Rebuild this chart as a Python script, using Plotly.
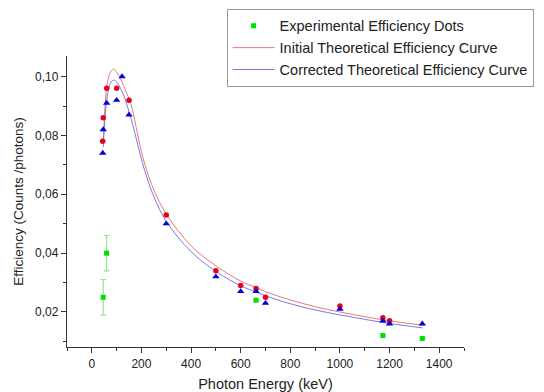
import plotly.graph_objects as go

# Experimental efficiency (green squares with error bars)
exp_energy = [46, 59.5, 662, 1173, 1332]
exp_eff = [0.025, 0.040, 0.024, 0.012, 0.011]
exp_err = [0.006, 0.006, 0, 0, 0]

# Initial theoretical points (red dots)
init_energy = [44, 46, 60, 100, 150, 300, 500, 600, 662, 700, 1000, 1173, 1200]
init_eff = [0.078, 0.086, 0.096, 0.096, 0.092, 0.053, 0.034, 0.029, 0.028, 0.025, 0.022, 0.018, 0.017]

# Corrected theoretical points (blue triangles)
corr_energy = [44, 46, 60, 100, 122, 150, 300, 500, 600, 662, 700, 1000, 1173, 1200, 1332]
corr_eff = [0.074, 0.082, 0.091, 0.092, 0.100, 0.087, 0.050, 0.032, 0.027, 0.027, 0.023, 0.021, 0.017, 0.016, 0.016]

# Curves
curve_energy = [46, 50, 55, 60, 70, 80, 88, 100, 120, 135, 150, 160, 200, 220, 250, 300,
                400, 500, 600, 662, 700, 800, 900, 1000, 1100, 1200, 1332]
init_curve = [0.0775, 0.0850, 0.0920, 0.0965, 0.1005, 0.1021, 0.1025, 0.1015, 0.0985, 0.0955,
              0.0925, 0.0900, 0.0745, 0.0685, 0.0615, 0.0533, 0.0425, 0.0357, 0.0305, 0.0283,
              0.0269, 0.0241, 0.0218, 0.0200, 0.0184, 0.0170, 0.0155]
corr_curve = [0.0760, 0.0820, 0.0880, 0.0920, 0.0965, 0.0984, 0.0988, 0.0982, 0.0952, 0.0922,
              0.0880, 0.0852, 0.0720, 0.0662, 0.0592, 0.0508, 0.0405, 0.0338, 0.0289, 0.0268,
              0.0255, 0.0228, 0.0207, 0.0190, 0.0175, 0.0161, 0.0146]

x_ticks = [0, 200, 400, 600, 800, 1000, 1200, 1400]
y_ticks = [0.02, 0.04, 0.06, 0.08, 0.10]

font_family = "Liberation Sans, Arial, sans-serif"

fig = go.Figure()

fig.add_trace(go.Scatter(
    x=curve_energy, y=init_curve, mode="lines", line=dict(color="#e87878", width=1, shape="spline"),
    name="Initial Theoretical Efficiency Curve", showlegend=True, legendrank=2))
fig.add_trace(go.Scatter(
    x=curve_energy, y=corr_curve, mode="lines", line=dict(color="#7878e8", width=1, shape="spline"),
    name="Corrected Theoretical Efficiency Curve", showlegend=True, legendrank=3))

fig.add_trace(go.Scatter(
    x=init_energy, y=init_eff, mode="markers",
    marker=dict(symbol="circle", size=5.5, color="#e8001c"), showlegend=False))
fig.add_trace(go.Scatter(
    x=corr_energy, y=corr_eff, mode="markers",
    marker=dict(symbol="triangle-up", size=6.5, color="#0000d8"), showlegend=False))

fig.add_trace(go.Scatter(
    x=exp_energy, y=exp_eff, mode="markers",
    marker=dict(symbol="square", size=5, color="#00e000"),
    error_y=dict(type="data", array=exp_err, visible=True, color="#90e890", thickness=1.2, width=3),
    name="Experimental Efficiency Dots", legendrank=1))

fig.update_layout(
    width=544, height=392,
    margin=dict(l=67, r=80, t=56, b=45, autoexpand=False),
    paper_bgcolor="white", plot_bgcolor="white",
    separators=", ",
    font=dict(family=font_family, size=12, color="#222"),
    showlegend=True,
    legend=dict(x=0.402, y=1.162, xanchor="left", yanchor="top",
                bordercolor="#999", borderwidth=1, bgcolor="white",
                font=dict(size=14.5, color="#222"), tracegroupgap=0,
                itemwidth=42),
)

fig.update_xaxes(
    range=[-100, 1500], tickvals=x_ticks, ticks="outside", ticklen=5, tickwidth=1,
    tickcolor="#333", showline=True, linecolor="#333", linewidth=1.3, showgrid=False,
    zeroline=False, minor=dict(dtick=100, tick0=0, ticks="outside", ticklen=3, tickcolor="#333"),
    title=dict(text="Photon Energy (keV)", font=dict(size=14.5), standoff=12),
)
fig.update_yaxes(
    range=[0.0081, 0.107], tickvals=y_ticks, tickformat=".2f", ticks="outside", ticklen=5,
    tickwidth=1, tickcolor="#333", showline=True, linecolor="#333", linewidth=1.3,
    showgrid=False, zeroline=False,
    minor=dict(dtick=0.01, tick0=0, ticks="outside", ticklen=3, tickcolor="#333"),
    title=dict(text="Efficiency (Counts /photons)", font=dict(size=13.5), standoff=8),
)

fig.write_html("out.html")
